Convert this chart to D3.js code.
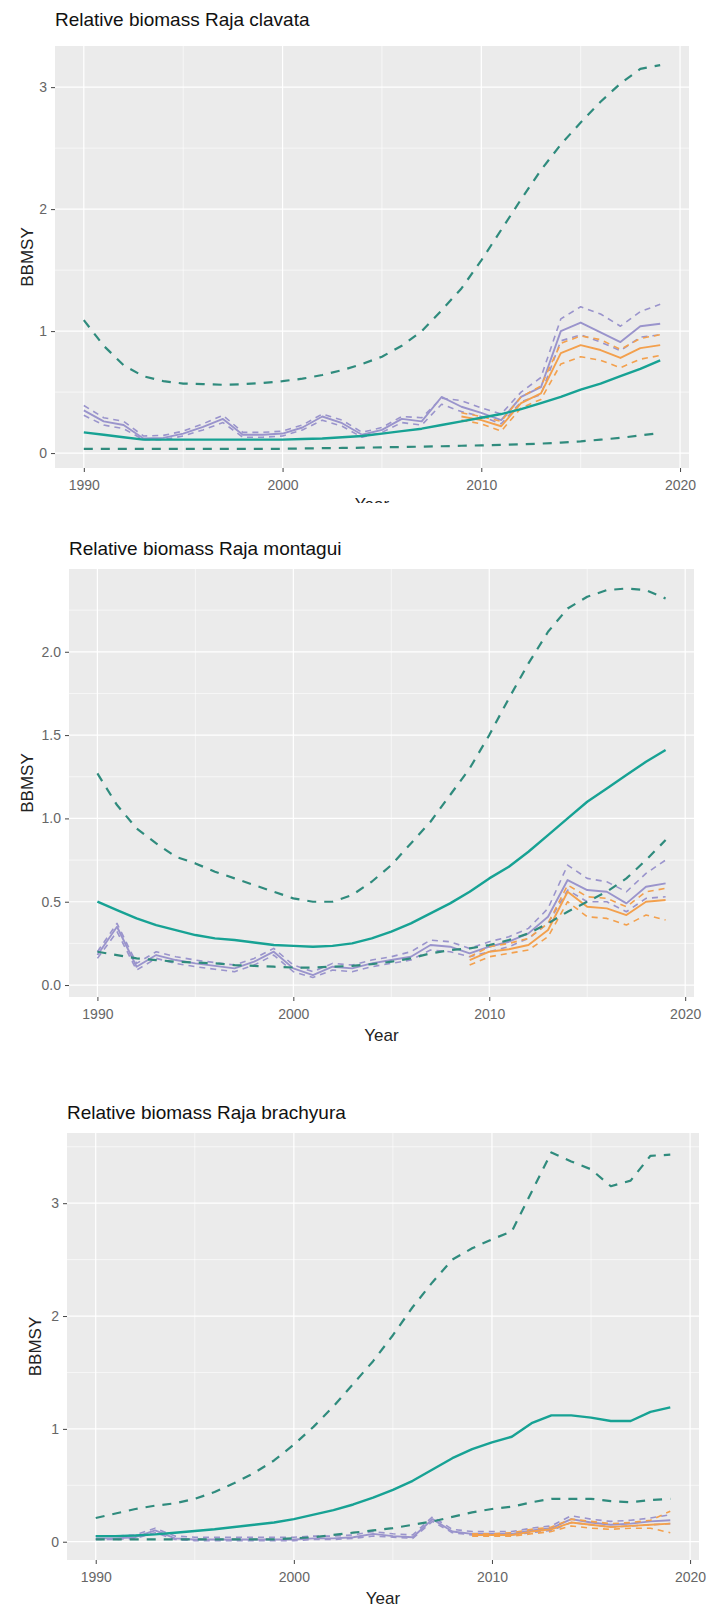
<!DOCTYPE html>
<html>
<head>
<meta charset="utf-8">
<script src="https://cdn.jsdelivr.net/npm/d3@7"></script>
<style>
  body { margin: 0; background: #fff; }
  svg text { font-family: "Liberation Sans", Arial, sans-serif; }
</style>
</head>
<body>
<div id="chart"></div>
<script>
// years of the model run and of the survey index
var years = d3.range(1990, 2020);
var surveyYears = [2009, 2010, 2011, 2012, 2013, 2014, 2015, 2016, 2017, 2018, 2019];

// ---- Raja clavata ----
var clavataB   = [0.17,0.15,0.13,0.11,0.11,0.11,0.11,0.11,0.11,0.11,0.11,0.115,0.12,0.13,0.14,0.16,0.18,0.2,0.23,0.26,0.29,0.32,0.36,0.41,0.46,0.52,0.57,0.63,0.69,0.76];
var clavataBhi = [1.09,0.88,0.72,0.63,0.59,0.57,0.565,0.56,0.565,0.575,0.59,0.61,0.64,0.68,0.73,0.79,0.88,1.0,1.17,1.35,1.58,1.83,2.08,2.32,2.53,2.71,2.88,3.03,3.15,3.18];
var clavataBlo = [0.035,0.035,0.035,0.035,0.035,0.035,0.035,0.035,0.035,0.035,0.035,0.038,0.04,0.042,0.044,0.047,0.05,0.053,0.056,0.06,0.063,0.067,0.072,0.078,0.086,0.096,0.11,0.125,0.145,0.165];
var clavataIdx   = [0.35,0.26,0.23,0.12,0.125,0.16,0.215,0.28,0.15,0.15,0.16,0.21,0.3,0.245,0.15,0.19,0.28,0.26,0.46,0.38,0.33,0.27,0.46,0.54,1.0,1.07,0.99,0.91,1.04,1.06];
var clavataIdxHi = [0.39,0.29,0.26,0.14,0.145,0.18,0.24,0.31,0.17,0.17,0.18,0.23,0.32,0.27,0.17,0.21,0.3,0.29,0.45,0.43,0.37,0.32,0.5,0.62,1.1,1.2,1.14,1.04,1.16,1.22];
var clavataIdxLo = [0.31,0.23,0.2,0.11,0.11,0.14,0.19,0.25,0.13,0.13,0.14,0.19,0.27,0.22,0.13,0.17,0.25,0.23,0.4,0.34,0.3,0.24,0.42,0.48,0.92,0.97,0.91,0.84,0.95,0.97];
var clavataSurv   = [0.3,0.27,0.22,0.41,0.49,0.82,0.885,0.845,0.78,0.86,0.885];
var clavataSurvHi = [0.33,0.3,0.26,0.46,0.55,0.9,0.96,0.93,0.85,0.94,0.97];
var clavataSurvLo = [0.27,0.24,0.18,0.37,0.44,0.73,0.79,0.76,0.7,0.77,0.8];

// ---- Raja montagui ----
var montaguiB   = [0.5,0.45,0.4,0.36,0.33,0.3,0.28,0.27,0.255,0.24,0.235,0.23,0.235,0.25,0.28,0.32,0.37,0.43,0.49,0.56,0.64,0.71,0.8,0.9,1.0,1.1,1.18,1.26,1.34,1.41];
var montaguiBhi = [1.27,1.08,0.94,0.85,0.77,0.73,0.68,0.64,0.6,0.56,0.52,0.5,0.5,0.54,0.62,0.72,0.85,0.98,1.14,1.3,1.5,1.72,1.93,2.12,2.26,2.33,2.37,2.38,2.37,2.32];
var montaguiBlo = [0.2,0.18,0.16,0.15,0.14,0.135,0.13,0.12,0.115,0.11,0.105,0.105,0.11,0.115,0.125,0.14,0.16,0.19,0.21,0.22,0.24,0.27,0.31,0.37,0.44,0.5,0.56,0.64,0.75,0.87];
var montaguiIdx   = [0.18,0.35,0.11,0.18,0.15,0.13,0.115,0.1,0.14,0.2,0.1,0.06,0.11,0.1,0.13,0.15,0.17,0.24,0.23,0.19,0.23,0.26,0.31,0.41,0.63,0.57,0.56,0.49,0.59,0.61];
var montaguiIdxHi = [0.2,0.37,0.13,0.2,0.17,0.15,0.135,0.12,0.16,0.22,0.12,0.08,0.13,0.12,0.15,0.17,0.2,0.27,0.26,0.22,0.26,0.29,0.34,0.46,0.72,0.64,0.62,0.56,0.67,0.75];
var montaguiIdxLo = [0.16,0.32,0.09,0.16,0.13,0.11,0.095,0.08,0.12,0.18,0.08,0.045,0.09,0.08,0.11,0.13,0.15,0.21,0.2,0.17,0.2,0.23,0.28,0.37,0.57,0.5,0.5,0.44,0.52,0.53];
var montaguiSurv   = [0.15,0.2,0.215,0.24,0.33,0.56,0.47,0.46,0.42,0.5,0.51];
var montaguiSurvHi = [0.17,0.23,0.25,0.28,0.37,0.6,0.53,0.52,0.47,0.56,0.58];
var montaguiSurvLo = [0.12,0.17,0.19,0.21,0.29,0.5,0.41,0.4,0.36,0.42,0.39];

// ---- Raja brachyura ----
var brachyuraB   = [0.05,0.05,0.055,0.065,0.08,0.095,0.11,0.13,0.15,0.17,0.2,0.24,0.28,0.33,0.39,0.46,0.54,0.64,0.74,0.82,0.88,0.93,1.05,1.12,1.12,1.1,1.07,1.07,1.15,1.19];
var brachyuraBhi = [0.21,0.25,0.29,0.32,0.34,0.38,0.44,0.52,0.61,0.72,0.86,1.02,1.2,1.4,1.6,1.83,2.08,2.3,2.5,2.6,2.68,2.75,3.1,3.45,3.37,3.3,3.15,3.2,3.42,3.43];
var brachyuraBlo = [0.02,0.02,0.02,0.02,0.02,0.02,0.02,0.02,0.02,0.02,0.03,0.04,0.06,0.08,0.1,0.12,0.15,0.18,0.22,0.26,0.29,0.31,0.35,0.38,0.38,0.38,0.36,0.35,0.37,0.38];
var brachyuraIdx   = [0.03,0.03,0.04,0.1,0.03,0.02,0.02,0.02,0.02,0.02,0.02,0.03,0.03,0.04,0.07,0.05,0.04,0.2,0.09,0.07,0.07,0.07,0.1,0.12,0.2,0.17,0.15,0.16,0.18,0.19];
var brachyuraIdxHi = [0.05,0.05,0.06,0.12,0.05,0.04,0.04,0.04,0.04,0.04,0.04,0.05,0.05,0.06,0.09,0.07,0.06,0.22,0.11,0.09,0.09,0.09,0.12,0.14,0.23,0.2,0.18,0.19,0.21,0.24];
var brachyuraIdxLo = [0.02,0.02,0.03,0.08,0.02,0.01,0.01,0.01,0.01,0.01,0.01,0.02,0.02,0.03,0.05,0.04,0.03,0.18,0.08,0.06,0.06,0.06,0.08,0.1,0.17,0.15,0.13,0.14,0.15,0.16];
var brachyuraSurv   = [0.06,0.06,0.06,0.09,0.11,0.17,0.15,0.13,0.14,0.15,0.16];
var brachyuraSurvHi = [0.07,0.07,0.08,0.11,0.13,0.2,0.18,0.16,0.17,0.19,0.27];
var brachyuraSurvLo = [0.05,0.05,0.05,0.07,0.09,0.14,0.12,0.11,0.12,0.12,0.08];

// tick labels
var xTicks = [1990, 2000, 2010, 2020];
var yTicksWhole = [0, 1, 2, 3];
var yTicksHalf = [0, 0.5, 1, 1.5, 2];

var width = 709, height = 1610;
var teal = "#17a294", tealDash = "#2f8b7d", purple = "#9a94cc", orange = "#f3a04d";

var svg = d3.select("#chart").append("svg")
	.attr("width", width)
	.attr("height", height);

svg.append("rect").attr("width", width).attr("height", height).attr("fill", "#fff");

var panels = [
	{ title: "Relative biomass Raja clavata", B: clavataB, Bhi: clavataBhi, Blo: clavataBlo,
	  idx: clavataIdx, idxHi: clavataIdxHi, idxLo: clavataIdxLo,
	  surv: clavataSurv, survHi: clavataSurvHi, survLo: clavataSurvLo,
	  yTicks: yTicksWhole, fmt: d3.format("d"),
	  left: 55, right: 689, top: 46, bottom: 468, titleY: 26, xLabY: 491, yearY: 510, ylabX: 27, clip: [0, 503] },
	{ title: "Relative biomass Raja montagui", B: montaguiB, Bhi: montaguiBhi, Blo: montaguiBlo,
	  idx: montaguiIdx, idxHi: montaguiIdxHi, idxLo: montaguiIdxLo,
	  surv: montaguiSurv, survHi: montaguiSurvHi, survLo: montaguiSurvLo,
	  yTicks: yTicksHalf, fmt: d3.format(".1f"),
	  left: 69, right: 694, top: 569, bottom: 997, titleY: 555, xLabY: 1018, yearY: 1041, ylabX: 27, clip: [520, 1060] },
	{ title: "Relative biomass Raja brachyura", B: brachyuraB, Bhi: brachyuraBhi, Blo: brachyuraBlo,
	  idx: brachyuraIdx, idxHi: brachyuraIdxHi, idxLo: brachyuraIdxLo,
	  surv: brachyuraSurv, survHi: brachyuraSurvHi, survLo: brachyuraSurvLo,
	  yTicks: yTicksWhole, fmt: d3.format("d"),
	  left: 67, right: 699, top: 1133, bottom: 1560, titleY: 1119, xLabY: 1583, yearY: 1604, ylabX: 35, clip: [1070, 1610] }
];

// ggplot style 5% expansion
function expand(ext) {
	var pad = (ext[1] - ext[0]) * 0.05;
	return [ext[0] - pad, ext[1] + pad];
}

panels.forEach(function(p, i) {
	var clipId = "clip" + i;
	svg.append("clipPath").attr("id", clipId)
		.append("rect").attr("x", 0).attr("y", p.clip[0]).attr("width", width).attr("height", p.clip[1] - p.clip[0]);
	var g = svg.append("g").attr("clip-path", "url(#" + clipId + ")");

	var allVals = [].concat(p.B, p.Bhi, p.Blo, p.idx, p.idxHi, p.idxLo, p.surv, p.survHi, p.survLo);
	var x = d3.scaleLinear().domain(expand(d3.extent(years))).range([p.left, p.right]);
	var y = d3.scaleLinear().domain(expand(d3.extent(allVals))).range([p.bottom, p.top]);

	// panel background
	g.append("rect")
		.attr("x", p.left).attr("y", p.top)
		.attr("width", p.right - p.left).attr("height", p.bottom - p.top)
		.attr("fill", "#ebebeb");

	// minor grid lines
	var step = p.yTicks[1] - p.yTicks[0];
	var yMinor = d3.range(p.yTicks[0] - step / 2, y.domain()[1], step).filter(function(v) { return v > y.domain()[0]; });
	var xMinor = [1995, 2005, 2015];
	g.selectAll(".ymin").data(yMinor).enter().append("line")
		.attr("x1", p.left).attr("x2", p.right)
		.attr("y1", function(d) { return y(d); }).attr("y2", function(d) { return y(d); })
		.attr("stroke", "#fff").attr("stroke-width", 0.6);
	g.selectAll(".xmin").data(xMinor).enter().append("line")
		.attr("y1", p.top).attr("y2", p.bottom)
		.attr("x1", function(d) { return x(d); }).attr("x2", function(d) { return x(d); })
		.attr("stroke", "#fff").attr("stroke-width", 0.6);
	// major grid lines
	g.selectAll(".ymaj").data(p.yTicks).enter().append("line")
		.attr("x1", p.left).attr("x2", p.right)
		.attr("y1", function(d) { return y(d); }).attr("y2", function(d) { return y(d); })
		.attr("stroke", "#fff").attr("stroke-width", 1.2);
	g.selectAll(".xmaj").data(xTicks).enter().append("line")
		.attr("y1", p.top).attr("y2", p.bottom)
		.attr("x1", function(d) { return x(d); }).attr("x2", function(d) { return x(d); })
		.attr("stroke", "#fff").attr("stroke-width", 1.2);

	// axes
	var xAxis = g.append("g").attr("transform", "translate(0," + p.bottom + ")")
		.call(d3.axisBottom(x).tickValues(xTicks).tickFormat(d3.format("d")).tickSize(4).tickPadding(8));
	var yAxis = g.append("g").attr("transform", "translate(" + p.left + ",0)")
		.call(d3.axisLeft(y).tickValues(p.yTicks).tickFormat(p.fmt).tickSize(4).tickPadding(4));
	[xAxis, yAxis].forEach(function(a) {
		a.select(".domain").remove();
		a.selectAll(".tick line").attr("stroke", "#444");
		a.selectAll(".tick text").attr("fill", "#666").style("font-size", "14px")
			.style("font-family", "'Liberation Sans', Arial, sans-serif");
	});

	// lines
	var line = function(xs, vals) {
		return d3.line().x(function(d, j) { return x(xs[j]); }).y(function(d) { return y(d); })(vals);
	};
	var draw = function(xs, vals, col, w, dash) {
		g.append("path").attr("d", line(xs, vals))
			.attr("fill", "none").attr("stroke", col).attr("stroke-width", w)
			.attr("stroke-linejoin", "round")
			.attr("stroke-dasharray", dash || null);
	};
	draw(years, p.idxHi, purple, 1.6, "6,5");
	draw(years, p.idxLo, purple, 1.6, "6,5");
	draw(years, p.idx, purple, 1.9);
	draw(surveyYears, p.survHi, orange, 1.6, "6,5");
	draw(surveyYears, p.survLo, orange, 1.6, "6,5");
	draw(surveyYears, p.surv, orange, 1.9);
	draw(years, p.Bhi, tealDash, 2.2, "9,8");
	draw(years, p.Blo, tealDash, 2.2, "9,8");
	draw(years, p.B, teal, 2.4);

	// labels
	g.append("text").attr("x", p.left).attr("y", p.titleY)
		.attr("fill", "#111").style("font-size", "19px").text(p.title);
	g.append("text").attr("x", (p.left + p.right) / 2).attr("y", p.yearY)
		.attr("text-anchor", "middle").attr("fill", "#222").style("font-size", "17px").text("Year");
	g.append("text")
		.attr("transform", "translate(" + p.ylabX + "," + ((p.top + p.bottom) / 2) + ") rotate(-90)")
		.attr("text-anchor", "middle").attr("dy", "0.35em")
		.attr("fill", "#222").style("font-size", "17px").text("BBMSY");
});
</script>
</body>
</html>
